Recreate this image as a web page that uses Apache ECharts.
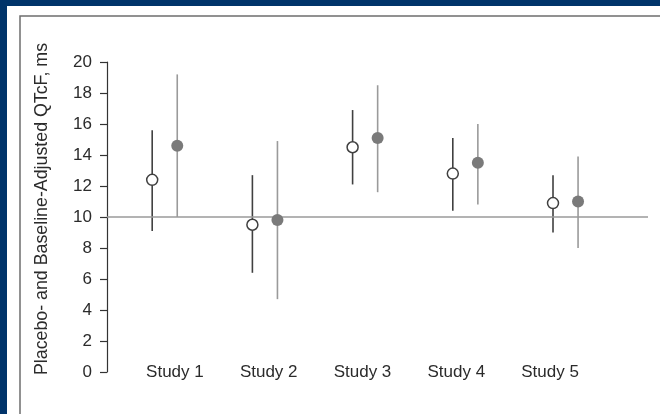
<!DOCTYPE html>
<html>
<head>
<meta charset="utf-8">
<style>
  html, body { margin: 0; padding: 0; background: #00346a; }
  #chart { width: 660px; height: 414px; }
</style>
<script src="https://cdn.jsdelivr.net/npm/echarts@6/dist/echarts.min.js"></script>
</head>
<body>
<div id="chart"></div>
<script>
// Study labels and QTcF change estimates (ms) with 90% CI bounds
const studies = ['Study 1', 'Study 2', 'Study 3', 'Study 4', 'Study 5'];

const openMean = [12.4, 9.5, 14.5, 12.8, 10.9];
const openLow  = [9.1, 6.4, 12.1, 10.4, 9.0];
const openHigh = [15.6, 12.7, 16.9, 15.1, 12.7];

const filledMean = [14.6, 9.8, 15.1, 13.5, 11.0];
const filledLow  = [10.0, 4.7, 11.6, 10.8, 8.0];
const filledHigh = [19.2, 14.9, 18.5, 16.0, 13.9];

const yTicks = [0, 2, 4, 6, 8, 10, 12, 14, 16, 18, 20];
const referenceValue = 10;

// Horizontal offset of each marker from its study position
const OFFSET = 0.125;

const FONT = '"Liberation Sans", Arial, Helvetica, sans-serif';
const TEXT_COLOR = '#2b2b2b';

const openPts = openMean.map((v, i) => [i - OFFSET, v]);
const filledPts = filledMean.map((v, i) => [i + OFFSET, v]);
const openBars = openMean.map((v, i) => [i - OFFSET, openLow[i], openHigh[i]]);
const filledBars = filledMean.map((v, i) => [i + OFFSET, filledLow[i], filledHigh[i]]);

function whisker(color, width) {
  return function (params, api) {
    const a = api.coord([api.value(0), api.value(1)]);
    const b = api.coord([api.value(0), api.value(2)]);
    return {
      type: 'line',
      shape: { x1: a[0], y1: a[1], x2: b[0], y2: b[1] },
      style: { stroke: color, lineWidth: width }
    };
  };
}

const chart = echarts.init(document.getElementById('chart'), null, { renderer: 'canvas' });

chart.setOption({
  backgroundColor: '#00346a',
  animation: false,
  graphic: [
    { type: 'rect', z: -10, silent: true,
      shape: { x: 7, y: 6, width: 700, height: 450 },
      style: { fill: '#ffffff' } },
    { type: 'rect', z: -9, silent: true,
      shape: { x: 20, y: 16, width: 700, height: 450 },
      style: { fill: 'none', stroke: '#6e6e6e', lineWidth: 1.5 } }
  ],
  grid: [
    { left: 107, right: 12, top: 62, bottom: 42 },
    { left: 128, width: 469, top: 62, bottom: 52 }
  ],
  xAxis: [
    { type: 'value', gridIndex: 0, min: -0.576, max: 4.823, show: false },
    { type: 'category', gridIndex: 1, data: studies, boundaryGap: true,
      axisLine: { show: false }, axisTick: { show: false },
      axisLabel: { margin: 2, fontFamily: FONT, fontSize: 17, color: TEXT_COLOR } }
  ],
  yAxis: [
    { type: 'value', gridIndex: 0, min: yTicks[0], max: yTicks[yTicks.length - 1], interval: 2,
      name: 'Placebo- and Baseline-Adjusted QTcF, ms',
      nameLocation: 'middle', nameGap: 56, nameRotate: 90,
      nameTextStyle: { fontFamily: FONT, fontSize: 17.8, color: TEXT_COLOR, padding: [0, 0, 0, 16] },
      axisLine: { show: true, onZero: false, lineStyle: { color: '#333', width: 1.2 } },
      axisTick: { show: true, length: 7, lineStyle: { color: '#333', width: 1.2 } },
      axisLabel: { margin: 15, fontFamily: FONT, fontSize: 17, color: TEXT_COLOR },
      splitLine: { show: false } },
    { type: 'value', gridIndex: 1, show: false }
  ],
  series: [
    { type: 'custom', xAxisIndex: 0, yAxisIndex: 0, z: 2,
      renderItem: whisker('#404040', 1.6), data: openBars,
      markLine: {
        silent: true, symbol: 'none', label: { show: false },
        lineStyle: { color: '#9a9a9a', width: 1.6, type: 'solid' },
        data: [{ yAxis: referenceValue }]
      } },
    { type: 'custom', xAxisIndex: 0, yAxisIndex: 0, z: 2,
      renderItem: whisker('#9a9a9a', 1.6), data: filledBars },
    { type: 'scatter', xAxisIndex: 0, yAxisIndex: 0, z: 5,
      symbol: 'circle', symbolSize: 11, data: openPts,
      itemStyle: { color: '#ffffff', borderColor: '#404040', borderWidth: 1.5, opacity: 1 } },
    { type: 'scatter', xAxisIndex: 0, yAxisIndex: 0, z: 5,
      symbol: 'circle', symbolSize: 12, data: filledPts,
      itemStyle: { color: '#7a7a7a', opacity: 1 } }
  ]
});
</script>
</body>
</html>
